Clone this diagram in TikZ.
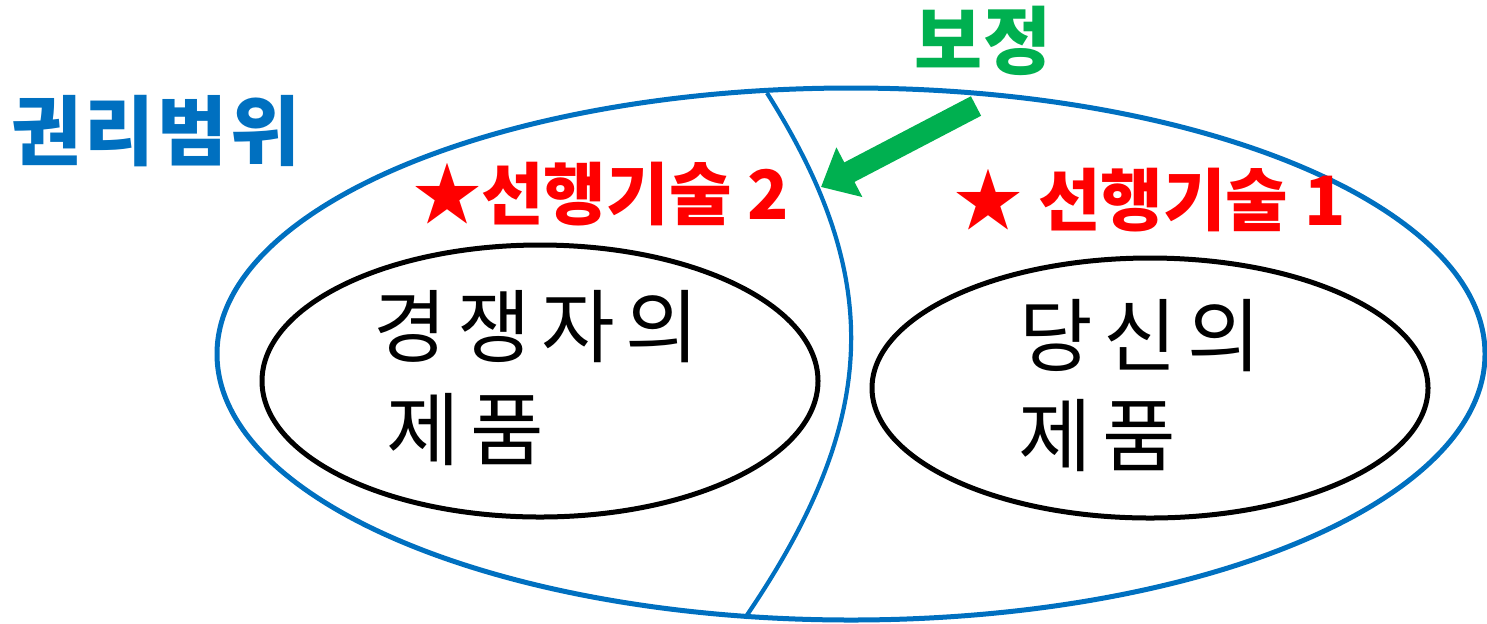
\documentclass[tikz,border=0pt]{standalone}
\usepackage{fontspec}
\setmainfont{Noto Sans CJK KR}
\newfontfamily\kr{Noto Sans CJK KR}
\newfontfamily\krs{Noto Sans CJK KR}[LetterSpace=13]
\newfontfamily\krbs{Noto Sans CJK KR}[LetterSpace=4]
\usetikzlibrary{shapes.geometric,arrows.meta}
\definecolor{pblue}{HTML}{0070C0}
\definecolor{pgreen}{HTML}{00B050}
\definecolor{pred}{HTML}{FF0000}
\begin{document}
\begin{tikzpicture}[x=0.5pt,y=-0.5pt,
  bigell/.style={ellipse, draw=pblue, line width=2.5pt, inner sep=0pt},
  prodell/.style={ellipse, draw=black, line width=2.5pt, inner sep=0pt},
  prodtxt/.style={font=\krs\fontsize{40pt}{44pt}\selectfont, inner sep=0pt, anchor=center},
  redtxt/.style={font=\kr\bfseries\fontsize{34pt}{38pt}\selectfont, text=pred, inner sep=0pt},
]
\useasboundingbox (0,0) rectangle (1487,623);
\node[bigell, minimum width=634pt, minimum height=266pt] (scope) at (851,354) {};
\node[prodell, minimum width=278pt, minimum height=136pt] (comp) at (540,381) {};
\node[prodell, minimum width=278pt, minimum height=130pt] (mine) at (1150,388) {};
\coordinate (cutA) at (767,93);
\coordinate (cutB) at (745,618);
\draw[pblue, line width=2.1pt] (cutA) .. controls (885,280) and (880,420) .. (cutB);
\node[font=\krbs\bfseries\fontsize{38pt}{42pt}\selectfont, text=pblue, inner sep=0pt] (lscope) at (156,131) {권리범위};
\node[font=\kr\bfseries\fontsize{37pt}{40pt}\selectfont, text=pgreen, inner sep=0pt] (lfix) at (983,41) {보정};
\coordinate (arrS) at (976,106);
\coordinate (arrT) at (821,187);
\draw[pgreen, line width=11pt, -{Triangle[length=16pt,width=27pt]}] (arrS) -- (arrT);
\node[redtxt] (prior2) at (601,194) {★선행기술 2};
\node[redtxt] (prior1) at (1150,200) {★ 선행기술 1};
\node[prodtxt] (t1) at (536,327) {경쟁자의};
\node[prodtxt] (t2) at (465,430) {제품};
\node[prodtxt] (t3) at (1140,336) {당신의};
\node[prodtxt] (t4) at (1097,436) {제품};
\end{tikzpicture}
\end{document}
